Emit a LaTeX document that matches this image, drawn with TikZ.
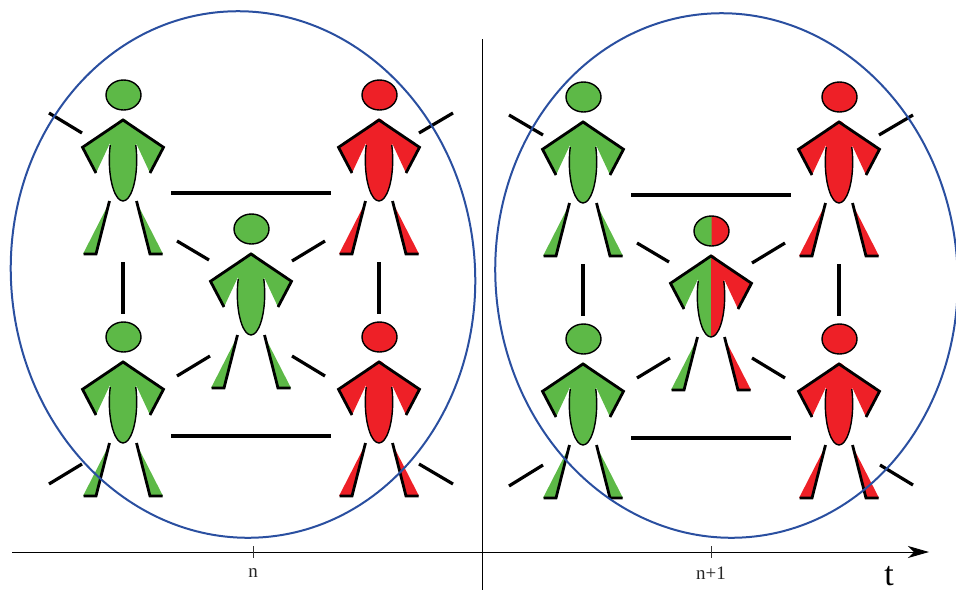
\documentclass[tikz,border=0pt]{standalone}
\usepackage{fontspec}
\setmainfont{Liberation Serif}
\usetikzlibrary{arrows.meta}
\definecolor{pgreen}{HTML}{5DB947}
\definecolor{pred}{HTML}{EE2027}
\definecolor{ringblue}{HTML}{2A4FA0}
\tikzset{
  heavy/.style={line width=2.8pt,black,line cap=butt,line join=miter},
  link/.style={line width=3.2pt,black},
  thin outline/.style={line width=1.4pt,black},
  ring/.style={line width=2pt,ringblue},
  axisline/.style={line width=0.9pt,black},
  ticklabel/.style={font=\fontsize{19}{19}\selectfont,text=black!85,inner sep=0pt},
}
\newcommand{\personfig}[4]{%
  \begin{scope}[shift={(#1,#2)}]
    \fill[#3] (0,40) ellipse [x radius=13.7,y radius=41];
    \begin{scope}\clip (0,-5) rectangle (20,90); \fill[#4] (0,40) ellipse [x radius=13.7,y radius=41]; \end{scope}
    \fill[#3] (0,0) -- (-40.5,27.3) -- (-27,53) -- (-13,23) -- (-13,40) -- (0,40) -- cycle;
    \fill[#4] (0,0) -- (40.5,27.3) -- (27,53) -- (13,23) -- (13,40) -- (0,40) -- cycle;
    \begin{scope}\clip (-20,25) rectangle (20,90); \draw[thin outline] (0,40) ellipse [x radius=13.7,y radius=41]; \end{scope}
    \draw[heavy] (-27,53) -- (-40.5,27.3) -- (0,0) -- (40.5,27.3) -- (27,53);
    \fill[#3] (0.5,-25) ellipse [x radius=17.5,y radius=15];
    \begin{scope}\clip (0.5,-50) rectangle (20,-5); \fill[#4] (0.5,-25) ellipse [x radius=17.5,y radius=15]; \end{scope}
    \draw[thin outline] (0.5,-25) ellipse [x radius=17.5,y radius=15];
    \fill[#3] (-15,85) -- (-40,134) -- (-26.5,134) -- cycle;
    \fill[#4] (15,85) -- (40,134) -- (26.5,134) -- cycle;
    \draw[heavy] (-13.5,81) -- (-27,134) -- (-39.5,134);
    \draw[heavy] (13.5,81) -- (27,134) -- (39.5,134);
  \end{scope}}
\newcommand{\linkbar}[5]{%
  \coordinate (#1a) at (#2,#3); \coordinate (#1b) at (#4,#5); \draw[link] (#1a) -- (#1b);}
\begin{document}
\begin{tikzpicture}[x=1pt,y=-1pt]
\useasboundingbox (0,0) rectangle (956,590);
\personfig{123}{120}{pgreen}{pgreen}
\personfig{379}{120}{pred}{pred}
\personfig{251}{254}{pgreen}{pgreen}
\personfig{123}{362}{pgreen}{pgreen}
\personfig{379}{362}{pred}{pred}
\personfig{583}{122}{pgreen}{pgreen}
\personfig{839}{122}{pred}{pred}
\personfig{711}{256}{pgreen}{pred}
\personfig{583}{364}{pgreen}{pgreen}
\personfig{839}{364}{pred}{pred}
% left panel links
\linkbar{la}{171}{193}{331}{193}
\linkbar{lb}{171}{436}{331}{436}
\linkbar{lc}{123}{262}{123}{314}
\linkbar{ld}{379}{262}{379}{314}
\linkbar{le}{177}{241}{209}{260}
\linkbar{lf}{325}{241}{292}{261}
\linkbar{lg}{177}{376}{210}{356}
\linkbar{lh}{325}{376}{292}{356}
\linkbar{li}{49}{113}{82}{133}
\linkbar{lj}{453}{113}{419}{133}
\linkbar{lk}{49}{484}{82}{464}
\linkbar{ll}{453}{484}{419}{464}
% right panel links
\linkbar{ra}{631}{195}{791}{195}
\linkbar{rb}{631}{438}{791}{438}
\linkbar{rc}{583}{264}{583}{316}
\linkbar{rd}{839}{264}{839}{316}
\linkbar{re}{637}{243}{669}{262}
\linkbar{rf}{785}{243}{752}{263}
\linkbar{rg}{637}{378}{670}{358}
\linkbar{rh}{785}{378}{752}{358}
\linkbar{ri}{509}{115}{543}{135}
\linkbar{rj}{913}{115}{879}{135}
\linkbar{rk}{509}{486}{543}{465}
\linkbar{rl}{913}{485}{880}{465}
% rings
\draw[ring] (243,274.5) ellipse [x radius=232,y radius=263.5,rotate=5];
\draw[ring] (726.5,275.5) ellipse [x radius=231,y radius=262.5,rotate=5];
% axes
\coordinate (axs) at (12,552);
\coordinate (axe) at (929,552);
\coordinate (vt) at (482,39);
\coordinate (vb) at (482,590);
\draw[axisline,-{Stealth[length=21pt,width=12pt,inset=6pt]}] (axs) -- (axe);
\draw[axisline] (vt) -- (vb);
\coordinate (t1a) at (253,546); \coordinate (t1b) at (253,558);
\coordinate (t2a) at (711,546); \coordinate (t2b) at (711,558);
\draw[line width=0.8pt,black!80] (t1a) -- (t1b);
\draw[line width=0.8pt,black!80] (t2a) -- (t2b);
\node[ticklabel] (ln) at (253,573.5) {n};
\node[ticklabel] (lnp) at (711,573.5) {n+1};
\node[font=\fontsize{34}{34}\selectfont,inner sep=0pt,anchor=base] (lt) at (889,585) {t};
\end{tikzpicture}
\end{document}
